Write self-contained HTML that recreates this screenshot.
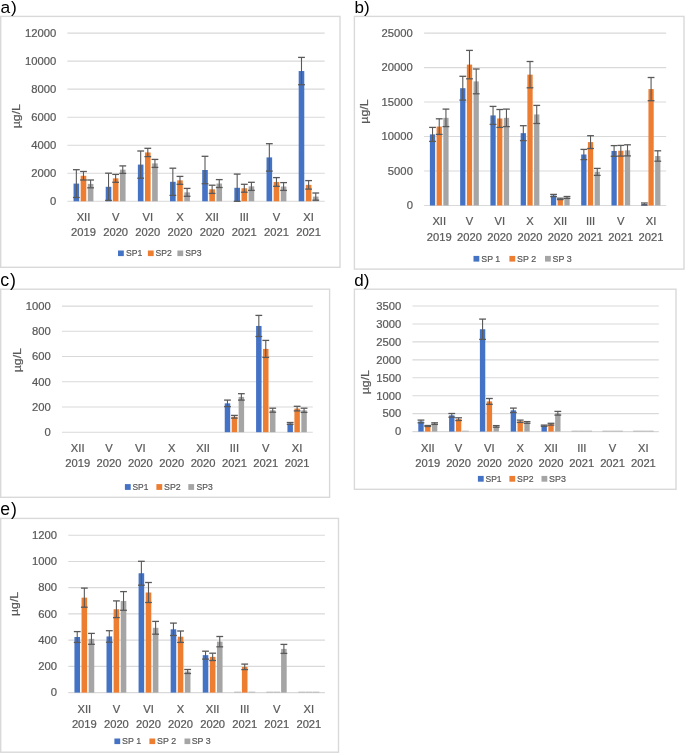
<!DOCTYPE html>
<html><head><meta charset="utf-8"><title>Figure</title>
<style>
html,body{margin:0;padding:0;background:#fff;}
body{width:685px;height:753px;overflow:hidden;}
svg{display:block;font-family:"Liberation Sans",sans-serif;will-change:transform;}
text.g{stroke:#595959;stroke-width:0.22px;}
</style></head>
<body>
<svg width="685" height="753" viewBox="0 0 685 753">
<rect x="0" y="0" width="685" height="753" fill="#fff"/>
<rect x="0.7" y="16.4" width="339.3" height="250.9" fill="none" stroke="#D9D9D9" stroke-width="1.4"/>
<text x="0.4" y="12.7" font-size="17.4" fill="#000">a<tspan dx="1">)</tspan></text>
<line x1="67.4" y1="201.3" x2="324.7" y2="201.3" stroke="#D9D9D9" stroke-width="1.1"/>
<text class="g" x="56.2" y="205.1" font-size="11.25" fill="#595959" text-anchor="end">0</text>
<line x1="67.4" y1="173.27" x2="324.7" y2="173.27" stroke="#D9D9D9" stroke-width="1.1"/>
<text class="g" x="56.2" y="177.07" font-size="11.25" fill="#595959" text-anchor="end">2000</text>
<line x1="67.4" y1="145.23" x2="324.7" y2="145.23" stroke="#D9D9D9" stroke-width="1.1"/>
<text class="g" x="56.2" y="149.03" font-size="11.25" fill="#595959" text-anchor="end">4000</text>
<line x1="67.4" y1="117.2" x2="324.7" y2="117.2" stroke="#D9D9D9" stroke-width="1.1"/>
<text class="g" x="56.2" y="121" font-size="11.25" fill="#595959" text-anchor="end">6000</text>
<line x1="67.4" y1="89.17" x2="324.7" y2="89.17" stroke="#D9D9D9" stroke-width="1.1"/>
<text class="g" x="56.2" y="92.97" font-size="11.25" fill="#595959" text-anchor="end">8000</text>
<line x1="67.4" y1="61.13" x2="324.7" y2="61.13" stroke="#D9D9D9" stroke-width="1.1"/>
<text class="g" x="56.2" y="64.93" font-size="11.25" fill="#595959" text-anchor="end">10000</text>
<line x1="67.4" y1="33.1" x2="324.7" y2="33.1" stroke="#D9D9D9" stroke-width="1.1"/>
<text class="g" x="56.2" y="36.9" font-size="11.25" fill="#595959" text-anchor="end">12000</text>
<text class="g" x="0" y="0" font-size="11.2" fill="#595959" text-anchor="middle" textLength="24.1" lengthAdjust="spacingAndGlyphs" transform="translate(19.8 116.2) rotate(-90)">&#181;g/L</text>
<rect x="73.55" y="183.6" width="5.61" height="17.7" fill="#4472C4"/>
<rect x="80.67" y="175.75" width="5.61" height="25.55" fill="#ED7D31"/>
<rect x="87.8" y="183.9" width="5.61" height="17.4" fill="#A5A5A5"/>
<line x1="76.35" y1="169.7" x2="76.35" y2="197.5" stroke="#595959" stroke-width="1.1"/>
<line x1="72.95" y1="169.7" x2="79.75" y2="169.7" stroke="#595959" stroke-width="1.3"/>
<line x1="72.95" y1="197.5" x2="79.75" y2="197.5" stroke="#595959" stroke-width="1.3"/>
<line x1="83.48" y1="171.5" x2="83.48" y2="180" stroke="#595959" stroke-width="1.1"/>
<line x1="80.08" y1="171.5" x2="86.88" y2="171.5" stroke="#595959" stroke-width="1.3"/>
<line x1="80.08" y1="180" x2="86.88" y2="180" stroke="#595959" stroke-width="1.3"/>
<line x1="90.61" y1="180" x2="90.61" y2="187.8" stroke="#595959" stroke-width="1.1"/>
<line x1="87.21" y1="180" x2="94.01" y2="180" stroke="#595959" stroke-width="1.3"/>
<line x1="87.21" y1="187.8" x2="94.01" y2="187.8" stroke="#595959" stroke-width="1.3"/>
<rect x="105.71" y="186.8" width="5.61" height="14.5" fill="#4472C4"/>
<rect x="112.84" y="178.35" width="5.61" height="22.95" fill="#ED7D31"/>
<rect x="119.97" y="169.65" width="5.61" height="31.65" fill="#A5A5A5"/>
<line x1="108.52" y1="173.2" x2="108.52" y2="200.4" stroke="#595959" stroke-width="1.1"/>
<line x1="105.12" y1="173.2" x2="111.92" y2="173.2" stroke="#595959" stroke-width="1.3"/>
<line x1="105.12" y1="200.4" x2="111.92" y2="200.4" stroke="#595959" stroke-width="1.3"/>
<line x1="115.64" y1="174.4" x2="115.64" y2="182.3" stroke="#595959" stroke-width="1.1"/>
<line x1="112.24" y1="174.4" x2="119.04" y2="174.4" stroke="#595959" stroke-width="1.3"/>
<line x1="112.24" y1="182.3" x2="119.04" y2="182.3" stroke="#595959" stroke-width="1.3"/>
<line x1="122.77" y1="165.9" x2="122.77" y2="173.4" stroke="#595959" stroke-width="1.1"/>
<line x1="119.37" y1="165.9" x2="126.17" y2="165.9" stroke="#595959" stroke-width="1.3"/>
<line x1="119.37" y1="173.4" x2="126.17" y2="173.4" stroke="#595959" stroke-width="1.3"/>
<rect x="137.87" y="164.6" width="5.61" height="36.7" fill="#4472C4"/>
<rect x="145" y="152.45" width="5.61" height="48.85" fill="#ED7D31"/>
<rect x="152.13" y="163.4" width="5.61" height="37.9" fill="#A5A5A5"/>
<line x1="140.68" y1="151" x2="140.68" y2="178.2" stroke="#595959" stroke-width="1.1"/>
<line x1="137.28" y1="151" x2="144.08" y2="151" stroke="#595959" stroke-width="1.3"/>
<line x1="137.28" y1="178.2" x2="144.08" y2="178.2" stroke="#595959" stroke-width="1.3"/>
<line x1="147.81" y1="148.3" x2="147.81" y2="156.6" stroke="#595959" stroke-width="1.1"/>
<line x1="144.41" y1="148.3" x2="151.21" y2="148.3" stroke="#595959" stroke-width="1.3"/>
<line x1="144.41" y1="156.6" x2="151.21" y2="156.6" stroke="#595959" stroke-width="1.3"/>
<line x1="154.93" y1="159.4" x2="154.93" y2="167.4" stroke="#595959" stroke-width="1.1"/>
<line x1="151.53" y1="159.4" x2="158.33" y2="159.4" stroke="#595959" stroke-width="1.3"/>
<line x1="151.53" y1="167.4" x2="158.33" y2="167.4" stroke="#595959" stroke-width="1.3"/>
<rect x="170.03" y="181.8" width="5.61" height="19.5" fill="#4472C4"/>
<rect x="177.16" y="180.35" width="5.61" height="20.95" fill="#ED7D31"/>
<rect x="184.29" y="192.35" width="5.61" height="8.95" fill="#A5A5A5"/>
<line x1="172.84" y1="168.2" x2="172.84" y2="195.4" stroke="#595959" stroke-width="1.1"/>
<line x1="169.44" y1="168.2" x2="176.24" y2="168.2" stroke="#595959" stroke-width="1.3"/>
<line x1="169.44" y1="195.4" x2="176.24" y2="195.4" stroke="#595959" stroke-width="1.3"/>
<line x1="179.97" y1="176.4" x2="179.97" y2="184.3" stroke="#595959" stroke-width="1.1"/>
<line x1="176.57" y1="176.4" x2="183.37" y2="176.4" stroke="#595959" stroke-width="1.3"/>
<line x1="176.57" y1="184.3" x2="183.37" y2="184.3" stroke="#595959" stroke-width="1.3"/>
<line x1="187.1" y1="188.4" x2="187.1" y2="196.3" stroke="#595959" stroke-width="1.1"/>
<line x1="183.7" y1="188.4" x2="190.5" y2="188.4" stroke="#595959" stroke-width="1.3"/>
<line x1="183.7" y1="196.3" x2="190.5" y2="196.3" stroke="#595959" stroke-width="1.3"/>
<rect x="202.2" y="170" width="5.61" height="31.3" fill="#4472C4"/>
<rect x="209.32" y="189.3" width="5.61" height="12" fill="#ED7D31"/>
<rect x="216.45" y="183.55" width="5.61" height="17.75" fill="#A5A5A5"/>
<line x1="205" y1="156.3" x2="205" y2="183.7" stroke="#595959" stroke-width="1.1"/>
<line x1="201.6" y1="156.3" x2="208.4" y2="156.3" stroke="#595959" stroke-width="1.3"/>
<line x1="201.6" y1="183.7" x2="208.4" y2="183.7" stroke="#595959" stroke-width="1.3"/>
<line x1="212.13" y1="185.2" x2="212.13" y2="193.4" stroke="#595959" stroke-width="1.1"/>
<line x1="208.73" y1="185.2" x2="215.53" y2="185.2" stroke="#595959" stroke-width="1.3"/>
<line x1="208.73" y1="193.4" x2="215.53" y2="193.4" stroke="#595959" stroke-width="1.3"/>
<line x1="219.26" y1="179.6" x2="219.26" y2="187.5" stroke="#595959" stroke-width="1.1"/>
<line x1="215.86" y1="179.6" x2="222.66" y2="179.6" stroke="#595959" stroke-width="1.3"/>
<line x1="215.86" y1="187.5" x2="222.66" y2="187.5" stroke="#595959" stroke-width="1.3"/>
<rect x="234.36" y="187.8" width="5.61" height="13.5" fill="#4472C4"/>
<rect x="241.49" y="188.25" width="5.61" height="13.05" fill="#ED7D31"/>
<rect x="248.62" y="186.35" width="5.61" height="14.95" fill="#A5A5A5"/>
<line x1="237.17" y1="174.1" x2="237.17" y2="201.3" stroke="#595959" stroke-width="1.1"/>
<line x1="233.77" y1="174.1" x2="240.57" y2="174.1" stroke="#595959" stroke-width="1.3"/>
<line x1="233.77" y1="201.3" x2="240.57" y2="201.3" stroke="#595959" stroke-width="1.3"/>
<line x1="244.29" y1="184.3" x2="244.29" y2="192.2" stroke="#595959" stroke-width="1.1"/>
<line x1="240.89" y1="184.3" x2="247.69" y2="184.3" stroke="#595959" stroke-width="1.3"/>
<line x1="240.89" y1="192.2" x2="247.69" y2="192.2" stroke="#595959" stroke-width="1.3"/>
<line x1="251.42" y1="182.3" x2="251.42" y2="190.4" stroke="#595959" stroke-width="1.1"/>
<line x1="248.02" y1="182.3" x2="254.82" y2="182.3" stroke="#595959" stroke-width="1.3"/>
<line x1="248.02" y1="190.4" x2="254.82" y2="190.4" stroke="#595959" stroke-width="1.3"/>
<rect x="266.52" y="157.4" width="5.61" height="43.9" fill="#4472C4"/>
<rect x="273.65" y="181.95" width="5.61" height="19.35" fill="#ED7D31"/>
<rect x="280.78" y="186.5" width="5.61" height="14.8" fill="#A5A5A5"/>
<line x1="269.33" y1="143.7" x2="269.33" y2="171.1" stroke="#595959" stroke-width="1.1"/>
<line x1="265.93" y1="143.7" x2="272.73" y2="143.7" stroke="#595959" stroke-width="1.3"/>
<line x1="265.93" y1="171.1" x2="272.73" y2="171.1" stroke="#595959" stroke-width="1.3"/>
<line x1="276.46" y1="177.6" x2="276.46" y2="186.3" stroke="#595959" stroke-width="1.1"/>
<line x1="273.06" y1="177.6" x2="279.86" y2="177.6" stroke="#595959" stroke-width="1.3"/>
<line x1="273.06" y1="186.3" x2="279.86" y2="186.3" stroke="#595959" stroke-width="1.3"/>
<line x1="283.58" y1="182.6" x2="283.58" y2="190.4" stroke="#595959" stroke-width="1.1"/>
<line x1="280.18" y1="182.6" x2="286.98" y2="182.6" stroke="#595959" stroke-width="1.3"/>
<line x1="280.18" y1="190.4" x2="286.98" y2="190.4" stroke="#595959" stroke-width="1.3"/>
<rect x="298.68" y="71.05" width="5.61" height="130.25" fill="#4472C4"/>
<rect x="305.81" y="184.85" width="5.61" height="16.45" fill="#ED7D31"/>
<rect x="312.94" y="196.6" width="5.61" height="4.7" fill="#A5A5A5"/>
<line x1="301.49" y1="57.4" x2="301.49" y2="84.7" stroke="#595959" stroke-width="1.1"/>
<line x1="298.09" y1="57.4" x2="304.89" y2="57.4" stroke="#595959" stroke-width="1.3"/>
<line x1="298.09" y1="84.7" x2="304.89" y2="84.7" stroke="#595959" stroke-width="1.3"/>
<line x1="308.62" y1="180.6" x2="308.62" y2="189.1" stroke="#595959" stroke-width="1.1"/>
<line x1="305.22" y1="180.6" x2="312.02" y2="180.6" stroke="#595959" stroke-width="1.3"/>
<line x1="305.22" y1="189.1" x2="312.02" y2="189.1" stroke="#595959" stroke-width="1.3"/>
<line x1="315.75" y1="193" x2="315.75" y2="200.2" stroke="#595959" stroke-width="1.1"/>
<line x1="312.35" y1="193" x2="319.15" y2="193" stroke="#595959" stroke-width="1.3"/>
<line x1="312.35" y1="200.2" x2="319.15" y2="200.2" stroke="#595959" stroke-width="1.3"/>
<text class="g" x="83.48" y="221.1" font-size="11.2" fill="#595959" text-anchor="middle">XII</text>
<text class="g" x="83.48" y="236.4" font-size="11.2" fill="#595959" text-anchor="middle">2019</text>
<text class="g" x="115.64" y="221.1" font-size="11.2" fill="#595959" text-anchor="middle">V</text>
<text class="g" x="115.64" y="236.4" font-size="11.2" fill="#595959" text-anchor="middle">2020</text>
<text class="g" x="147.81" y="221.1" font-size="11.2" fill="#595959" text-anchor="middle">VI</text>
<text class="g" x="147.81" y="236.4" font-size="11.2" fill="#595959" text-anchor="middle">2020</text>
<text class="g" x="179.97" y="221.1" font-size="11.2" fill="#595959" text-anchor="middle">X</text>
<text class="g" x="179.97" y="236.4" font-size="11.2" fill="#595959" text-anchor="middle">2020</text>
<text class="g" x="212.13" y="221.1" font-size="11.2" fill="#595959" text-anchor="middle">XII</text>
<text class="g" x="212.13" y="236.4" font-size="11.2" fill="#595959" text-anchor="middle">2020</text>
<text class="g" x="244.29" y="221.1" font-size="11.2" fill="#595959" text-anchor="middle">III</text>
<text class="g" x="244.29" y="236.4" font-size="11.2" fill="#595959" text-anchor="middle">2021</text>
<text class="g" x="276.46" y="221.1" font-size="11.2" fill="#595959" text-anchor="middle">V</text>
<text class="g" x="276.46" y="236.4" font-size="11.2" fill="#595959" text-anchor="middle">2021</text>
<text class="g" x="308.62" y="221.1" font-size="11.2" fill="#595959" text-anchor="middle">XI</text>
<text class="g" x="308.62" y="236.4" font-size="11.2" fill="#595959" text-anchor="middle">2021</text>
<rect x="118" y="250.5" width="5.8" height="5.6" fill="#4472C4"/>
<text class="g" x="125.9" y="256" font-size="9.8" fill="#595959" text-anchor="start" textLength="16.3" lengthAdjust="spacingAndGlyphs">SP1</text>
<rect x="147.9" y="250.5" width="5.8" height="5.6" fill="#ED7D31"/>
<text class="g" x="155.4" y="256" font-size="9.8" fill="#595959" text-anchor="start" textLength="16.3" lengthAdjust="spacingAndGlyphs">SP2</text>
<rect x="177.4" y="250.5" width="5.8" height="5.6" fill="#A5A5A5"/>
<text class="g" x="185.3" y="256" font-size="9.8" fill="#595959" text-anchor="start" textLength="16.3" lengthAdjust="spacingAndGlyphs">SP3</text>
<rect x="354.4" y="16.4" width="329.6" height="252.7" fill="none" stroke="#D9D9D9" stroke-width="1.4"/>
<text x="354.6" y="12.7" font-size="17" fill="#000">b<tspan dx="0">)</tspan></text>
<line x1="424.1" y1="205.5" x2="666.2" y2="205.5" stroke="#D9D9D9" stroke-width="1.1"/>
<text class="g" x="412.9" y="209.3" font-size="11.25" fill="#595959" text-anchor="end">0</text>
<line x1="424.1" y1="171.02" x2="666.2" y2="171.02" stroke="#D9D9D9" stroke-width="1.1"/>
<text class="g" x="412.9" y="174.82" font-size="11.25" fill="#595959" text-anchor="end">5000</text>
<line x1="424.1" y1="136.54" x2="666.2" y2="136.54" stroke="#D9D9D9" stroke-width="1.1"/>
<text class="g" x="412.9" y="140.34" font-size="11.25" fill="#595959" text-anchor="end">10000</text>
<line x1="424.1" y1="102.06" x2="666.2" y2="102.06" stroke="#D9D9D9" stroke-width="1.1"/>
<text class="g" x="412.9" y="105.86" font-size="11.25" fill="#595959" text-anchor="end">15000</text>
<line x1="424.1" y1="67.58" x2="666.2" y2="67.58" stroke="#D9D9D9" stroke-width="1.1"/>
<text class="g" x="412.9" y="71.38" font-size="11.25" fill="#595959" text-anchor="end">20000</text>
<line x1="424.1" y1="33.1" x2="666.2" y2="33.1" stroke="#D9D9D9" stroke-width="1.1"/>
<text class="g" x="412.9" y="36.9" font-size="11.25" fill="#595959" text-anchor="end">25000</text>
<text class="g" x="0" y="0" font-size="11.2" fill="#595959" text-anchor="middle" textLength="24.1" lengthAdjust="spacingAndGlyphs" transform="translate(368 111.6) rotate(-90)">&#181;g/L</text>
<rect x="429.88" y="134.4" width="5.28" height="71.1" fill="#4472C4"/>
<rect x="436.59" y="126.6" width="5.28" height="78.9" fill="#ED7D31"/>
<rect x="443.3" y="117.85" width="5.28" height="87.65" fill="#A5A5A5"/>
<line x1="432.52" y1="127.4" x2="432.52" y2="141.4" stroke="#595959" stroke-width="1.1"/>
<line x1="429.12" y1="127.4" x2="435.92" y2="127.4" stroke="#595959" stroke-width="1.3"/>
<line x1="429.12" y1="141.4" x2="435.92" y2="141.4" stroke="#595959" stroke-width="1.3"/>
<line x1="439.23" y1="118.8" x2="439.23" y2="134.4" stroke="#595959" stroke-width="1.1"/>
<line x1="435.83" y1="118.8" x2="442.63" y2="118.8" stroke="#595959" stroke-width="1.3"/>
<line x1="435.83" y1="134.4" x2="442.63" y2="134.4" stroke="#595959" stroke-width="1.3"/>
<line x1="445.94" y1="109.1" x2="445.94" y2="126.6" stroke="#595959" stroke-width="1.1"/>
<line x1="442.54" y1="109.1" x2="449.34" y2="109.1" stroke="#595959" stroke-width="1.3"/>
<line x1="442.54" y1="126.6" x2="449.34" y2="126.6" stroke="#595959" stroke-width="1.3"/>
<rect x="460.15" y="88.2" width="5.28" height="117.3" fill="#4472C4"/>
<rect x="466.85" y="64.6" width="5.28" height="140.9" fill="#ED7D31"/>
<rect x="473.56" y="81.4" width="5.28" height="124.1" fill="#A5A5A5"/>
<line x1="462.79" y1="76.3" x2="462.79" y2="100.1" stroke="#595959" stroke-width="1.1"/>
<line x1="459.39" y1="76.3" x2="466.19" y2="76.3" stroke="#595959" stroke-width="1.3"/>
<line x1="459.39" y1="100.1" x2="466.19" y2="100.1" stroke="#595959" stroke-width="1.3"/>
<line x1="469.49" y1="50.4" x2="469.49" y2="78.8" stroke="#595959" stroke-width="1.1"/>
<line x1="466.09" y1="50.4" x2="472.89" y2="50.4" stroke="#595959" stroke-width="1.3"/>
<line x1="466.09" y1="78.8" x2="472.89" y2="78.8" stroke="#595959" stroke-width="1.3"/>
<line x1="476.2" y1="69" x2="476.2" y2="93.8" stroke="#595959" stroke-width="1.1"/>
<line x1="472.8" y1="69" x2="479.6" y2="69" stroke="#595959" stroke-width="1.3"/>
<line x1="472.8" y1="93.8" x2="479.6" y2="93.8" stroke="#595959" stroke-width="1.3"/>
<rect x="490.41" y="115.4" width="5.28" height="90.1" fill="#4472C4"/>
<rect x="497.12" y="118.45" width="5.28" height="87.05" fill="#ED7D31"/>
<rect x="503.82" y="117.85" width="5.28" height="87.65" fill="#A5A5A5"/>
<line x1="493.05" y1="106.4" x2="493.05" y2="124.4" stroke="#595959" stroke-width="1.1"/>
<line x1="489.65" y1="106.4" x2="496.45" y2="106.4" stroke="#595959" stroke-width="1.3"/>
<line x1="489.65" y1="124.4" x2="496.45" y2="124.4" stroke="#595959" stroke-width="1.3"/>
<line x1="499.76" y1="109.5" x2="499.76" y2="127.4" stroke="#595959" stroke-width="1.1"/>
<line x1="496.36" y1="109.5" x2="503.16" y2="109.5" stroke="#595959" stroke-width="1.3"/>
<line x1="496.36" y1="127.4" x2="503.16" y2="127.4" stroke="#595959" stroke-width="1.3"/>
<line x1="506.46" y1="109.1" x2="506.46" y2="126.6" stroke="#595959" stroke-width="1.1"/>
<line x1="503.06" y1="109.1" x2="509.86" y2="109.1" stroke="#595959" stroke-width="1.3"/>
<line x1="503.06" y1="126.6" x2="509.86" y2="126.6" stroke="#595959" stroke-width="1.3"/>
<rect x="520.67" y="133.15" width="5.28" height="72.35" fill="#4472C4"/>
<rect x="527.38" y="74.65" width="5.28" height="130.85" fill="#ED7D31"/>
<rect x="534.09" y="114.45" width="5.28" height="91.05" fill="#A5A5A5"/>
<line x1="523.31" y1="125.7" x2="523.31" y2="140.6" stroke="#595959" stroke-width="1.1"/>
<line x1="519.91" y1="125.7" x2="526.71" y2="125.7" stroke="#595959" stroke-width="1.3"/>
<line x1="519.91" y1="140.6" x2="526.71" y2="140.6" stroke="#595959" stroke-width="1.3"/>
<line x1="530.02" y1="61.5" x2="530.02" y2="87.8" stroke="#595959" stroke-width="1.1"/>
<line x1="526.62" y1="61.5" x2="533.42" y2="61.5" stroke="#595959" stroke-width="1.3"/>
<line x1="526.62" y1="87.8" x2="533.42" y2="87.8" stroke="#595959" stroke-width="1.3"/>
<line x1="536.73" y1="105.4" x2="536.73" y2="123.5" stroke="#595959" stroke-width="1.1"/>
<line x1="533.33" y1="105.4" x2="540.13" y2="105.4" stroke="#595959" stroke-width="1.3"/>
<line x1="533.33" y1="123.5" x2="540.13" y2="123.5" stroke="#595959" stroke-width="1.3"/>
<rect x="550.93" y="195.5" width="5.28" height="10" fill="#4472C4"/>
<rect x="557.64" y="198.9" width="5.28" height="6.6" fill="#ED7D31"/>
<rect x="564.35" y="197.45" width="5.28" height="8.05" fill="#A5A5A5"/>
<line x1="553.57" y1="194.4" x2="553.57" y2="196.6" stroke="#595959" stroke-width="1.1"/>
<line x1="550.17" y1="194.4" x2="556.97" y2="194.4" stroke="#595959" stroke-width="1.3"/>
<line x1="550.17" y1="196.6" x2="556.97" y2="196.6" stroke="#595959" stroke-width="1.3"/>
<line x1="560.28" y1="198.2" x2="560.28" y2="199.6" stroke="#595959" stroke-width="1.1"/>
<line x1="556.88" y1="198.2" x2="563.68" y2="198.2" stroke="#595959" stroke-width="1.3"/>
<line x1="556.88" y1="199.6" x2="563.68" y2="199.6" stroke="#595959" stroke-width="1.3"/>
<line x1="566.99" y1="196.5" x2="566.99" y2="198.4" stroke="#595959" stroke-width="1.1"/>
<line x1="563.59" y1="196.5" x2="570.39" y2="196.5" stroke="#595959" stroke-width="1.3"/>
<line x1="563.59" y1="198.4" x2="570.39" y2="198.4" stroke="#595959" stroke-width="1.3"/>
<rect x="581.2" y="154.5" width="5.28" height="51" fill="#4472C4"/>
<rect x="587.9" y="142.1" width="5.28" height="63.4" fill="#ED7D31"/>
<rect x="594.61" y="171.9" width="5.28" height="33.6" fill="#A5A5A5"/>
<line x1="583.84" y1="149.4" x2="583.84" y2="159.6" stroke="#595959" stroke-width="1.1"/>
<line x1="580.44" y1="149.4" x2="587.24" y2="149.4" stroke="#595959" stroke-width="1.3"/>
<line x1="580.44" y1="159.6" x2="587.24" y2="159.6" stroke="#595959" stroke-width="1.3"/>
<line x1="590.54" y1="135.7" x2="590.54" y2="148.5" stroke="#595959" stroke-width="1.1"/>
<line x1="587.14" y1="135.7" x2="593.94" y2="135.7" stroke="#595959" stroke-width="1.3"/>
<line x1="587.14" y1="148.5" x2="593.94" y2="148.5" stroke="#595959" stroke-width="1.3"/>
<line x1="597.25" y1="168.4" x2="597.25" y2="175.4" stroke="#595959" stroke-width="1.1"/>
<line x1="593.85" y1="168.4" x2="600.65" y2="168.4" stroke="#595959" stroke-width="1.3"/>
<line x1="593.85" y1="175.4" x2="600.65" y2="175.4" stroke="#595959" stroke-width="1.3"/>
<rect x="611.46" y="150.95" width="5.28" height="54.55" fill="#4472C4"/>
<rect x="618.17" y="150.75" width="5.28" height="54.75" fill="#ED7D31"/>
<rect x="624.87" y="150.35" width="5.28" height="55.15" fill="#A5A5A5"/>
<line x1="614.1" y1="145.6" x2="614.1" y2="156.3" stroke="#595959" stroke-width="1.1"/>
<line x1="610.7" y1="145.6" x2="617.5" y2="145.6" stroke="#595959" stroke-width="1.3"/>
<line x1="610.7" y1="156.3" x2="617.5" y2="156.3" stroke="#595959" stroke-width="1.3"/>
<line x1="620.81" y1="145.4" x2="620.81" y2="156.1" stroke="#595959" stroke-width="1.1"/>
<line x1="617.41" y1="145.4" x2="624.21" y2="145.4" stroke="#595959" stroke-width="1.3"/>
<line x1="617.41" y1="156.1" x2="624.21" y2="156.1" stroke="#595959" stroke-width="1.3"/>
<line x1="627.51" y1="144.8" x2="627.51" y2="155.9" stroke="#595959" stroke-width="1.1"/>
<line x1="624.11" y1="144.8" x2="630.91" y2="144.8" stroke="#595959" stroke-width="1.3"/>
<line x1="624.11" y1="155.9" x2="630.91" y2="155.9" stroke="#595959" stroke-width="1.3"/>
<rect x="641.72" y="204" width="5.28" height="1.5" fill="#4472C4"/>
<rect x="648.43" y="89.1" width="5.28" height="116.4" fill="#ED7D31"/>
<rect x="655.14" y="156" width="5.28" height="49.5" fill="#A5A5A5"/>
<line x1="644.36" y1="203" x2="644.36" y2="205" stroke="#595959" stroke-width="1.1"/>
<line x1="640.96" y1="203" x2="647.76" y2="203" stroke="#595959" stroke-width="1.3"/>
<line x1="640.96" y1="205" x2="647.76" y2="205" stroke="#595959" stroke-width="1.3"/>
<line x1="651.07" y1="77.5" x2="651.07" y2="100.7" stroke="#595959" stroke-width="1.1"/>
<line x1="647.67" y1="77.5" x2="654.47" y2="77.5" stroke="#595959" stroke-width="1.3"/>
<line x1="647.67" y1="100.7" x2="654.47" y2="100.7" stroke="#595959" stroke-width="1.3"/>
<line x1="657.78" y1="150.8" x2="657.78" y2="161.2" stroke="#595959" stroke-width="1.1"/>
<line x1="654.38" y1="150.8" x2="661.18" y2="150.8" stroke="#595959" stroke-width="1.3"/>
<line x1="654.38" y1="161.2" x2="661.18" y2="161.2" stroke="#595959" stroke-width="1.3"/>
<text class="g" x="439.23" y="225.3" font-size="11.2" fill="#595959" text-anchor="middle">XII</text>
<text class="g" x="439.23" y="240.6" font-size="11.2" fill="#595959" text-anchor="middle">2019</text>
<text class="g" x="469.49" y="225.3" font-size="11.2" fill="#595959" text-anchor="middle">V</text>
<text class="g" x="469.49" y="240.6" font-size="11.2" fill="#595959" text-anchor="middle">2020</text>
<text class="g" x="499.76" y="225.3" font-size="11.2" fill="#595959" text-anchor="middle">VI</text>
<text class="g" x="499.76" y="240.6" font-size="11.2" fill="#595959" text-anchor="middle">2020</text>
<text class="g" x="530.02" y="225.3" font-size="11.2" fill="#595959" text-anchor="middle">X</text>
<text class="g" x="530.02" y="240.6" font-size="11.2" fill="#595959" text-anchor="middle">2020</text>
<text class="g" x="560.28" y="225.3" font-size="11.2" fill="#595959" text-anchor="middle">XII</text>
<text class="g" x="560.28" y="240.6" font-size="11.2" fill="#595959" text-anchor="middle">2020</text>
<text class="g" x="590.54" y="225.3" font-size="11.2" fill="#595959" text-anchor="middle">III</text>
<text class="g" x="590.54" y="240.6" font-size="11.2" fill="#595959" text-anchor="middle">2021</text>
<text class="g" x="620.81" y="225.3" font-size="11.2" fill="#595959" text-anchor="middle">V</text>
<text class="g" x="620.81" y="240.6" font-size="11.2" fill="#595959" text-anchor="middle">2021</text>
<text class="g" x="651.07" y="225.3" font-size="11.2" fill="#595959" text-anchor="middle">XI</text>
<text class="g" x="651.07" y="240.6" font-size="11.2" fill="#595959" text-anchor="middle">2021</text>
<rect x="473.5" y="255.9" width="5.8" height="5.7" fill="#4472C4"/>
<text class="g" x="481.3" y="261.5" font-size="9.8" fill="#595959" text-anchor="start" textLength="18.9" lengthAdjust="spacingAndGlyphs">SP 1</text>
<rect x="509.4" y="255.9" width="5.8" height="5.7" fill="#ED7D31"/>
<text class="g" x="517.1" y="261.5" font-size="9.8" fill="#595959" text-anchor="start" textLength="19" lengthAdjust="spacingAndGlyphs">SP 2</text>
<rect x="545" y="255.9" width="5.8" height="5.7" fill="#A5A5A5"/>
<text class="g" x="552.6" y="261.5" font-size="9.8" fill="#595959" text-anchor="start" textLength="19.1" lengthAdjust="spacingAndGlyphs">SP 3</text>
<rect x="0.7" y="289.2" width="328.9" height="208.1" fill="none" stroke="#D9D9D9" stroke-width="1.4"/>
<text x="0.2" y="285.6" font-size="17.8" fill="#000">c<tspan dx="0.8">)</tspan></text>
<line x1="62" y1="432.2" x2="312.8" y2="432.2" stroke="#D9D9D9" stroke-width="1.1"/>
<text class="g" x="50.8" y="436" font-size="11.25" fill="#595959" text-anchor="end">0</text>
<line x1="62" y1="406.98" x2="312.8" y2="406.98" stroke="#D9D9D9" stroke-width="1.1"/>
<text class="g" x="50.8" y="410.78" font-size="11.25" fill="#595959" text-anchor="end">200</text>
<line x1="62" y1="381.76" x2="312.8" y2="381.76" stroke="#D9D9D9" stroke-width="1.1"/>
<text class="g" x="50.8" y="385.56" font-size="11.25" fill="#595959" text-anchor="end">400</text>
<line x1="62" y1="356.54" x2="312.8" y2="356.54" stroke="#D9D9D9" stroke-width="1.1"/>
<text class="g" x="50.8" y="360.34" font-size="11.25" fill="#595959" text-anchor="end">600</text>
<line x1="62" y1="331.32" x2="312.8" y2="331.32" stroke="#D9D9D9" stroke-width="1.1"/>
<text class="g" x="50.8" y="335.12" font-size="11.25" fill="#595959" text-anchor="end">800</text>
<line x1="62" y1="306.1" x2="312.8" y2="306.1" stroke="#D9D9D9" stroke-width="1.1"/>
<text class="g" x="50.8" y="309.9" font-size="11.25" fill="#595959" text-anchor="end">1000</text>
<text class="g" x="0" y="0" font-size="11.2" fill="#595959" text-anchor="middle" textLength="24.1" lengthAdjust="spacingAndGlyphs" transform="translate(20.6 360.2) rotate(-90)">&#181;g/L</text>
<rect x="224.74" y="403.35" width="5.47" height="28.85" fill="#4472C4"/>
<rect x="231.69" y="416.75" width="5.47" height="15.45" fill="#ED7D31"/>
<rect x="238.64" y="396.9" width="5.47" height="35.3" fill="#A5A5A5"/>
<line x1="227.48" y1="400.1" x2="227.48" y2="406.6" stroke="#595959" stroke-width="1.1"/>
<line x1="224.08" y1="400.1" x2="230.88" y2="400.1" stroke="#595959" stroke-width="1.3"/>
<line x1="224.08" y1="406.6" x2="230.88" y2="406.6" stroke="#595959" stroke-width="1.3"/>
<line x1="234.43" y1="415.4" x2="234.43" y2="418.1" stroke="#595959" stroke-width="1.1"/>
<line x1="231.03" y1="415.4" x2="237.83" y2="415.4" stroke="#595959" stroke-width="1.3"/>
<line x1="231.03" y1="418.1" x2="237.83" y2="418.1" stroke="#595959" stroke-width="1.3"/>
<line x1="241.37" y1="393.7" x2="241.37" y2="400.1" stroke="#595959" stroke-width="1.1"/>
<line x1="237.97" y1="393.7" x2="244.77" y2="393.7" stroke="#595959" stroke-width="1.3"/>
<line x1="237.97" y1="400.1" x2="244.77" y2="400.1" stroke="#595959" stroke-width="1.3"/>
<rect x="256.09" y="325.95" width="5.47" height="106.25" fill="#4472C4"/>
<rect x="263.04" y="348.9" width="5.47" height="83.3" fill="#ED7D31"/>
<rect x="269.99" y="410.2" width="5.47" height="22" fill="#A5A5A5"/>
<line x1="258.83" y1="315.4" x2="258.83" y2="336.5" stroke="#595959" stroke-width="1.1"/>
<line x1="255.43" y1="315.4" x2="262.23" y2="315.4" stroke="#595959" stroke-width="1.3"/>
<line x1="255.43" y1="336.5" x2="262.23" y2="336.5" stroke="#595959" stroke-width="1.3"/>
<line x1="265.77" y1="340.4" x2="265.77" y2="357.4" stroke="#595959" stroke-width="1.1"/>
<line x1="262.38" y1="340.4" x2="269.17" y2="340.4" stroke="#595959" stroke-width="1.3"/>
<line x1="262.38" y1="357.4" x2="269.17" y2="357.4" stroke="#595959" stroke-width="1.3"/>
<line x1="272.72" y1="408.2" x2="272.72" y2="412.2" stroke="#595959" stroke-width="1.1"/>
<line x1="269.32" y1="408.2" x2="276.12" y2="408.2" stroke="#595959" stroke-width="1.3"/>
<line x1="269.32" y1="412.2" x2="276.12" y2="412.2" stroke="#595959" stroke-width="1.3"/>
<rect x="287.44" y="423.45" width="5.47" height="8.75" fill="#4472C4"/>
<rect x="294.39" y="408.6" width="5.47" height="23.6" fill="#ED7D31"/>
<rect x="301.34" y="410.3" width="5.47" height="21.9" fill="#A5A5A5"/>
<line x1="290.18" y1="422.5" x2="290.18" y2="424.4" stroke="#595959" stroke-width="1.1"/>
<line x1="286.78" y1="422.5" x2="293.58" y2="422.5" stroke="#595959" stroke-width="1.3"/>
<line x1="286.78" y1="424.4" x2="293.58" y2="424.4" stroke="#595959" stroke-width="1.3"/>
<line x1="297.12" y1="406.3" x2="297.12" y2="410.9" stroke="#595959" stroke-width="1.1"/>
<line x1="293.73" y1="406.3" x2="300.52" y2="406.3" stroke="#595959" stroke-width="1.3"/>
<line x1="293.73" y1="410.9" x2="300.52" y2="410.9" stroke="#595959" stroke-width="1.3"/>
<line x1="304.07" y1="408.2" x2="304.07" y2="412.4" stroke="#595959" stroke-width="1.1"/>
<line x1="300.67" y1="408.2" x2="307.47" y2="408.2" stroke="#595959" stroke-width="1.3"/>
<line x1="300.67" y1="412.4" x2="307.47" y2="412.4" stroke="#595959" stroke-width="1.3"/>
<text class="g" x="77.67" y="452" font-size="11.2" fill="#595959" text-anchor="middle">XII</text>
<text class="g" x="77.67" y="467.3" font-size="11.2" fill="#595959" text-anchor="middle">2019</text>
<text class="g" x="109.03" y="452" font-size="11.2" fill="#595959" text-anchor="middle">V</text>
<text class="g" x="109.03" y="467.3" font-size="11.2" fill="#595959" text-anchor="middle">2020</text>
<text class="g" x="140.38" y="452" font-size="11.2" fill="#595959" text-anchor="middle">VI</text>
<text class="g" x="140.38" y="467.3" font-size="11.2" fill="#595959" text-anchor="middle">2020</text>
<text class="g" x="171.73" y="452" font-size="11.2" fill="#595959" text-anchor="middle">X</text>
<text class="g" x="171.73" y="467.3" font-size="11.2" fill="#595959" text-anchor="middle">2020</text>
<text class="g" x="203.08" y="452" font-size="11.2" fill="#595959" text-anchor="middle">XII</text>
<text class="g" x="203.08" y="467.3" font-size="11.2" fill="#595959" text-anchor="middle">2020</text>
<text class="g" x="234.43" y="452" font-size="11.2" fill="#595959" text-anchor="middle">III</text>
<text class="g" x="234.43" y="467.3" font-size="11.2" fill="#595959" text-anchor="middle">2021</text>
<text class="g" x="265.77" y="452" font-size="11.2" fill="#595959" text-anchor="middle">V</text>
<text class="g" x="265.77" y="467.3" font-size="11.2" fill="#595959" text-anchor="middle">2021</text>
<text class="g" x="297.12" y="452" font-size="11.2" fill="#595959" text-anchor="middle">XI</text>
<text class="g" x="297.12" y="467.3" font-size="11.2" fill="#595959" text-anchor="middle">2021</text>
<rect x="124.9" y="484.1" width="5.8" height="5.8" fill="#4472C4"/>
<text class="g" x="132.5" y="489.9" font-size="9.8" fill="#595959" text-anchor="start" textLength="15.9" lengthAdjust="spacingAndGlyphs">SP1</text>
<rect x="156.4" y="484.1" width="5.8" height="5.8" fill="#ED7D31"/>
<text class="g" x="164.1" y="489.9" font-size="9.8" fill="#595959" text-anchor="start" textLength="16.7" lengthAdjust="spacingAndGlyphs">SP2</text>
<rect x="188.3" y="484.1" width="5.8" height="5.8" fill="#A5A5A5"/>
<text class="g" x="196.5" y="489.9" font-size="9.8" fill="#595959" text-anchor="start" textLength="16.2" lengthAdjust="spacingAndGlyphs">SP3</text>
<rect x="354.4" y="289.2" width="321.6" height="200.1" fill="none" stroke="#D9D9D9" stroke-width="1.4"/>
<text x="354.2" y="285.6" font-size="17" fill="#000">d<tspan dx="0">)</tspan></text>
<line x1="412.4" y1="431.6" x2="658.8" y2="431.6" stroke="#D9D9D9" stroke-width="1.1"/>
<text class="g" x="401.2" y="435.4" font-size="11.25" fill="#595959" text-anchor="end">0</text>
<line x1="412.4" y1="413.66" x2="658.8" y2="413.66" stroke="#D9D9D9" stroke-width="1.1"/>
<text class="g" x="401.2" y="417.46" font-size="11.25" fill="#595959" text-anchor="end">500</text>
<line x1="412.4" y1="395.71" x2="658.8" y2="395.71" stroke="#D9D9D9" stroke-width="1.1"/>
<text class="g" x="401.2" y="399.51" font-size="11.25" fill="#595959" text-anchor="end">1000</text>
<line x1="412.4" y1="377.77" x2="658.8" y2="377.77" stroke="#D9D9D9" stroke-width="1.1"/>
<text class="g" x="401.2" y="381.57" font-size="11.25" fill="#595959" text-anchor="end">1500</text>
<line x1="412.4" y1="359.83" x2="658.8" y2="359.83" stroke="#D9D9D9" stroke-width="1.1"/>
<text class="g" x="401.2" y="363.63" font-size="11.25" fill="#595959" text-anchor="end">2000</text>
<line x1="412.4" y1="341.89" x2="658.8" y2="341.89" stroke="#D9D9D9" stroke-width="1.1"/>
<text class="g" x="401.2" y="345.69" font-size="11.25" fill="#595959" text-anchor="end">2500</text>
<line x1="412.4" y1="323.94" x2="658.8" y2="323.94" stroke="#D9D9D9" stroke-width="1.1"/>
<text class="g" x="401.2" y="327.74" font-size="11.25" fill="#595959" text-anchor="end">3000</text>
<line x1="412.4" y1="306" x2="658.8" y2="306" stroke="#D9D9D9" stroke-width="1.1"/>
<text class="g" x="401.2" y="309.8" font-size="11.25" fill="#595959" text-anchor="end">3500</text>
<text class="g" x="0" y="0" font-size="11.2" fill="#595959" text-anchor="middle" textLength="24.1" lengthAdjust="spacingAndGlyphs" transform="translate(369.2 382.2) rotate(-90)">&#181;g/L</text>
<rect x="418.29" y="421.45" width="5.38" height="10.15" fill="#4472C4"/>
<rect x="425.11" y="426" width="5.38" height="5.6" fill="#ED7D31"/>
<rect x="431.94" y="423.6" width="5.38" height="8" fill="#A5A5A5"/>
<line x1="420.97" y1="420.1" x2="420.97" y2="422.8" stroke="#595959" stroke-width="1.1"/>
<line x1="417.57" y1="420.1" x2="424.37" y2="420.1" stroke="#595959" stroke-width="1.3"/>
<line x1="417.57" y1="422.8" x2="424.37" y2="422.8" stroke="#595959" stroke-width="1.3"/>
<line x1="427.8" y1="425.5" x2="427.8" y2="426.5" stroke="#595959" stroke-width="1.1"/>
<line x1="424.4" y1="425.5" x2="431.2" y2="425.5" stroke="#595959" stroke-width="1.3"/>
<line x1="424.4" y1="426.5" x2="431.2" y2="426.5" stroke="#595959" stroke-width="1.3"/>
<line x1="434.63" y1="422.8" x2="434.63" y2="424.4" stroke="#595959" stroke-width="1.1"/>
<line x1="431.23" y1="422.8" x2="438.03" y2="422.8" stroke="#595959" stroke-width="1.3"/>
<line x1="431.23" y1="424.4" x2="438.03" y2="424.4" stroke="#595959" stroke-width="1.3"/>
<rect x="449.09" y="415.35" width="5.38" height="16.25" fill="#4472C4"/>
<rect x="455.91" y="419.15" width="5.38" height="12.45" fill="#ED7D31"/>
<line x1="451.77" y1="413.5" x2="451.77" y2="417.2" stroke="#595959" stroke-width="1.1"/>
<line x1="448.37" y1="413.5" x2="455.17" y2="413.5" stroke="#595959" stroke-width="1.3"/>
<line x1="448.37" y1="417.2" x2="455.17" y2="417.2" stroke="#595959" stroke-width="1.3"/>
<line x1="458.6" y1="417.8" x2="458.6" y2="420.5" stroke="#595959" stroke-width="1.1"/>
<line x1="455.2" y1="417.8" x2="462" y2="417.8" stroke="#595959" stroke-width="1.3"/>
<line x1="455.2" y1="420.5" x2="462" y2="420.5" stroke="#595959" stroke-width="1.3"/>
<line x1="462.03" y1="431.2" x2="468.83" y2="431.2" stroke="#BFBFBF" stroke-width="1.2"/>
<rect x="479.89" y="329.25" width="5.38" height="102.35" fill="#4472C4"/>
<rect x="486.71" y="401.4" width="5.38" height="30.2" fill="#ED7D31"/>
<rect x="493.54" y="426.4" width="5.38" height="5.2" fill="#A5A5A5"/>
<line x1="482.57" y1="319.1" x2="482.57" y2="339.4" stroke="#595959" stroke-width="1.1"/>
<line x1="479.17" y1="319.1" x2="485.97" y2="319.1" stroke="#595959" stroke-width="1.3"/>
<line x1="479.17" y1="339.4" x2="485.97" y2="339.4" stroke="#595959" stroke-width="1.3"/>
<line x1="489.4" y1="398.5" x2="489.4" y2="404.3" stroke="#595959" stroke-width="1.1"/>
<line x1="486" y1="398.5" x2="492.8" y2="398.5" stroke="#595959" stroke-width="1.3"/>
<line x1="486" y1="404.3" x2="492.8" y2="404.3" stroke="#595959" stroke-width="1.3"/>
<line x1="496.23" y1="425.6" x2="496.23" y2="427.2" stroke="#595959" stroke-width="1.1"/>
<line x1="492.83" y1="425.6" x2="499.63" y2="425.6" stroke="#595959" stroke-width="1.3"/>
<line x1="492.83" y1="427.2" x2="499.63" y2="427.2" stroke="#595959" stroke-width="1.3"/>
<rect x="510.69" y="410.3" width="5.38" height="21.3" fill="#4472C4"/>
<rect x="517.51" y="421.25" width="5.38" height="10.35" fill="#ED7D31"/>
<rect x="524.34" y="422.45" width="5.38" height="9.15" fill="#A5A5A5"/>
<line x1="513.37" y1="408.1" x2="513.37" y2="412.5" stroke="#595959" stroke-width="1.1"/>
<line x1="509.97" y1="408.1" x2="516.77" y2="408.1" stroke="#595959" stroke-width="1.3"/>
<line x1="509.97" y1="412.5" x2="516.77" y2="412.5" stroke="#595959" stroke-width="1.3"/>
<line x1="520.2" y1="420.1" x2="520.2" y2="422.4" stroke="#595959" stroke-width="1.1"/>
<line x1="516.8" y1="420.1" x2="523.6" y2="420.1" stroke="#595959" stroke-width="1.3"/>
<line x1="516.8" y1="422.4" x2="523.6" y2="422.4" stroke="#595959" stroke-width="1.3"/>
<line x1="527.03" y1="421.6" x2="527.03" y2="423.3" stroke="#595959" stroke-width="1.1"/>
<line x1="523.63" y1="421.6" x2="530.43" y2="421.6" stroke="#595959" stroke-width="1.3"/>
<line x1="523.63" y1="423.3" x2="530.43" y2="423.3" stroke="#595959" stroke-width="1.3"/>
<rect x="541.49" y="425.7" width="5.38" height="5.9" fill="#4472C4"/>
<rect x="548.31" y="424.2" width="5.38" height="7.4" fill="#ED7D31"/>
<rect x="555.14" y="413.25" width="5.38" height="18.35" fill="#A5A5A5"/>
<line x1="544.17" y1="425.1" x2="544.17" y2="426.3" stroke="#595959" stroke-width="1.1"/>
<line x1="540.77" y1="425.1" x2="547.57" y2="425.1" stroke="#595959" stroke-width="1.3"/>
<line x1="540.77" y1="426.3" x2="547.57" y2="426.3" stroke="#595959" stroke-width="1.3"/>
<line x1="551" y1="423.3" x2="551" y2="425.1" stroke="#595959" stroke-width="1.1"/>
<line x1="547.6" y1="423.3" x2="554.4" y2="423.3" stroke="#595959" stroke-width="1.3"/>
<line x1="547.6" y1="425.1" x2="554.4" y2="425.1" stroke="#595959" stroke-width="1.3"/>
<line x1="557.83" y1="411.4" x2="557.83" y2="415.1" stroke="#595959" stroke-width="1.1"/>
<line x1="554.43" y1="411.4" x2="561.23" y2="411.4" stroke="#595959" stroke-width="1.3"/>
<line x1="554.43" y1="415.1" x2="561.23" y2="415.1" stroke="#595959" stroke-width="1.3"/>
<line x1="571.57" y1="431.2" x2="578.37" y2="431.2" stroke="#BFBFBF" stroke-width="1.2"/>
<line x1="578.4" y1="431.2" x2="585.2" y2="431.2" stroke="#BFBFBF" stroke-width="1.2"/>
<line x1="585.23" y1="431.2" x2="592.03" y2="431.2" stroke="#BFBFBF" stroke-width="1.2"/>
<line x1="602.37" y1="431.2" x2="609.17" y2="431.2" stroke="#BFBFBF" stroke-width="1.2"/>
<line x1="609.2" y1="431.2" x2="616" y2="431.2" stroke="#BFBFBF" stroke-width="1.2"/>
<line x1="616.03" y1="431.2" x2="622.83" y2="431.2" stroke="#BFBFBF" stroke-width="1.2"/>
<line x1="633.17" y1="431.2" x2="639.97" y2="431.2" stroke="#BFBFBF" stroke-width="1.2"/>
<line x1="640" y1="431.2" x2="646.8" y2="431.2" stroke="#BFBFBF" stroke-width="1.2"/>
<line x1="646.83" y1="431.2" x2="653.63" y2="431.2" stroke="#BFBFBF" stroke-width="1.2"/>
<text class="g" x="427.8" y="452" font-size="11.2" fill="#595959" text-anchor="middle">XII</text>
<text class="g" x="427.8" y="466.7" font-size="11.2" fill="#595959" text-anchor="middle">2019</text>
<text class="g" x="458.6" y="452" font-size="11.2" fill="#595959" text-anchor="middle">V</text>
<text class="g" x="458.6" y="466.7" font-size="11.2" fill="#595959" text-anchor="middle">2020</text>
<text class="g" x="489.4" y="452" font-size="11.2" fill="#595959" text-anchor="middle">VI</text>
<text class="g" x="489.4" y="466.7" font-size="11.2" fill="#595959" text-anchor="middle">2020</text>
<text class="g" x="520.2" y="452" font-size="11.2" fill="#595959" text-anchor="middle">X</text>
<text class="g" x="520.2" y="466.7" font-size="11.2" fill="#595959" text-anchor="middle">2020</text>
<text class="g" x="551" y="452" font-size="11.2" fill="#595959" text-anchor="middle">XII</text>
<text class="g" x="551" y="466.7" font-size="11.2" fill="#595959" text-anchor="middle">2020</text>
<text class="g" x="581.8" y="452" font-size="11.2" fill="#595959" text-anchor="middle">III</text>
<text class="g" x="581.8" y="466.7" font-size="11.2" fill="#595959" text-anchor="middle">2021</text>
<text class="g" x="612.6" y="452" font-size="11.2" fill="#595959" text-anchor="middle">V</text>
<text class="g" x="612.6" y="466.7" font-size="11.2" fill="#595959" text-anchor="middle">2021</text>
<text class="g" x="643.4" y="452" font-size="11.2" fill="#595959" text-anchor="middle">XI</text>
<text class="g" x="643.4" y="466.7" font-size="11.2" fill="#595959" text-anchor="middle">2021</text>
<rect x="477.9" y="475.9" width="5.8" height="5.8" fill="#4472C4"/>
<text class="g" x="485.5" y="481.9" font-size="9.8" fill="#595959" text-anchor="start" textLength="16.1" lengthAdjust="spacingAndGlyphs">SP1</text>
<rect x="509.4" y="475.9" width="5.8" height="5.8" fill="#ED7D31"/>
<text class="g" x="517.1" y="481.9" font-size="9.8" fill="#595959" text-anchor="start" textLength="16.4" lengthAdjust="spacingAndGlyphs">SP2</text>
<rect x="541.5" y="475.9" width="5.8" height="5.8" fill="#A5A5A5"/>
<text class="g" x="549.1" y="481.9" font-size="9.8" fill="#595959" text-anchor="start" textLength="16.8" lengthAdjust="spacingAndGlyphs">SP3</text>
<rect x="0.7" y="518.4" width="337.8" height="233.8" fill="none" stroke="#D9D9D9" stroke-width="1.4"/>
<text x="0.3" y="514.6" font-size="17.6" fill="#000">e<tspan dx="0.9">)</tspan></text>
<line x1="68.3" y1="692.6" x2="324.9" y2="692.6" stroke="#D9D9D9" stroke-width="1.1"/>
<text class="g" x="57.1" y="696.4" font-size="11.25" fill="#595959" text-anchor="end">0</text>
<line x1="68.3" y1="666.37" x2="324.9" y2="666.37" stroke="#D9D9D9" stroke-width="1.1"/>
<text class="g" x="57.1" y="670.17" font-size="11.25" fill="#595959" text-anchor="end">200</text>
<line x1="68.3" y1="640.13" x2="324.9" y2="640.13" stroke="#D9D9D9" stroke-width="1.1"/>
<text class="g" x="57.1" y="643.93" font-size="11.25" fill="#595959" text-anchor="end">400</text>
<line x1="68.3" y1="613.9" x2="324.9" y2="613.9" stroke="#D9D9D9" stroke-width="1.1"/>
<text class="g" x="57.1" y="617.7" font-size="11.25" fill="#595959" text-anchor="end">600</text>
<line x1="68.3" y1="587.67" x2="324.9" y2="587.67" stroke="#D9D9D9" stroke-width="1.1"/>
<text class="g" x="57.1" y="591.47" font-size="11.25" fill="#595959" text-anchor="end">800</text>
<line x1="68.3" y1="561.43" x2="324.9" y2="561.43" stroke="#D9D9D9" stroke-width="1.1"/>
<text class="g" x="57.1" y="565.23" font-size="11.25" fill="#595959" text-anchor="end">1000</text>
<line x1="68.3" y1="535.2" x2="324.9" y2="535.2" stroke="#D9D9D9" stroke-width="1.1"/>
<text class="g" x="57.1" y="539" font-size="11.25" fill="#595959" text-anchor="end">1200</text>
<text class="g" x="0" y="0" font-size="11.2" fill="#595959" text-anchor="middle" textLength="24.1" lengthAdjust="spacingAndGlyphs" transform="translate(18.3 603.9) rotate(-90)">&#181;g/L</text>
<rect x="74.43" y="637" width="5.6" height="55.6" fill="#4472C4"/>
<rect x="81.54" y="597.65" width="5.6" height="94.95" fill="#ED7D31"/>
<rect x="88.65" y="638.85" width="5.6" height="53.75" fill="#A5A5A5"/>
<line x1="77.23" y1="631.6" x2="77.23" y2="642.4" stroke="#595959" stroke-width="1.1"/>
<line x1="73.83" y1="631.6" x2="80.63" y2="631.6" stroke="#595959" stroke-width="1.3"/>
<line x1="73.83" y1="642.4" x2="80.63" y2="642.4" stroke="#595959" stroke-width="1.3"/>
<line x1="84.34" y1="588.1" x2="84.34" y2="607.2" stroke="#595959" stroke-width="1.1"/>
<line x1="80.94" y1="588.1" x2="87.74" y2="588.1" stroke="#595959" stroke-width="1.3"/>
<line x1="80.94" y1="607.2" x2="87.74" y2="607.2" stroke="#595959" stroke-width="1.3"/>
<line x1="91.45" y1="633.4" x2="91.45" y2="644.3" stroke="#595959" stroke-width="1.1"/>
<line x1="88.05" y1="633.4" x2="94.85" y2="633.4" stroke="#595959" stroke-width="1.3"/>
<line x1="88.05" y1="644.3" x2="94.85" y2="644.3" stroke="#595959" stroke-width="1.3"/>
<rect x="106.5" y="636.45" width="5.6" height="56.15" fill="#4472C4"/>
<rect x="113.61" y="609.25" width="5.6" height="83.35" fill="#ED7D31"/>
<rect x="120.72" y="600.95" width="5.6" height="91.65" fill="#A5A5A5"/>
<line x1="109.3" y1="630.7" x2="109.3" y2="642.2" stroke="#595959" stroke-width="1.1"/>
<line x1="105.9" y1="630.7" x2="112.7" y2="630.7" stroke="#595959" stroke-width="1.3"/>
<line x1="105.9" y1="642.2" x2="112.7" y2="642.2" stroke="#595959" stroke-width="1.3"/>
<line x1="116.41" y1="600.9" x2="116.41" y2="617.6" stroke="#595959" stroke-width="1.1"/>
<line x1="113.01" y1="600.9" x2="119.81" y2="600.9" stroke="#595959" stroke-width="1.3"/>
<line x1="113.01" y1="617.6" x2="119.81" y2="617.6" stroke="#595959" stroke-width="1.3"/>
<line x1="123.52" y1="591.6" x2="123.52" y2="610.3" stroke="#595959" stroke-width="1.1"/>
<line x1="120.12" y1="591.6" x2="126.92" y2="591.6" stroke="#595959" stroke-width="1.3"/>
<line x1="120.12" y1="610.3" x2="126.92" y2="610.3" stroke="#595959" stroke-width="1.3"/>
<rect x="138.58" y="573.25" width="5.6" height="119.35" fill="#4472C4"/>
<rect x="145.69" y="592.5" width="5.6" height="100.1" fill="#ED7D31"/>
<rect x="152.8" y="627.8" width="5.6" height="64.8" fill="#A5A5A5"/>
<line x1="141.38" y1="561.3" x2="141.38" y2="585.2" stroke="#595959" stroke-width="1.1"/>
<line x1="137.98" y1="561.3" x2="144.78" y2="561.3" stroke="#595959" stroke-width="1.3"/>
<line x1="137.98" y1="585.2" x2="144.78" y2="585.2" stroke="#595959" stroke-width="1.3"/>
<line x1="148.49" y1="582.5" x2="148.49" y2="602.5" stroke="#595959" stroke-width="1.1"/>
<line x1="145.09" y1="582.5" x2="151.89" y2="582.5" stroke="#595959" stroke-width="1.3"/>
<line x1="145.09" y1="602.5" x2="151.89" y2="602.5" stroke="#595959" stroke-width="1.3"/>
<line x1="155.6" y1="621.4" x2="155.6" y2="634.2" stroke="#595959" stroke-width="1.1"/>
<line x1="152.2" y1="621.4" x2="159" y2="621.4" stroke="#595959" stroke-width="1.3"/>
<line x1="152.2" y1="634.2" x2="159" y2="634.2" stroke="#595959" stroke-width="1.3"/>
<rect x="170.65" y="629.3" width="5.6" height="63.3" fill="#4472C4"/>
<rect x="177.76" y="636.7" width="5.6" height="55.9" fill="#ED7D31"/>
<rect x="184.87" y="671.5" width="5.6" height="21.1" fill="#A5A5A5"/>
<line x1="173.45" y1="623.1" x2="173.45" y2="635.5" stroke="#595959" stroke-width="1.1"/>
<line x1="170.05" y1="623.1" x2="176.85" y2="623.1" stroke="#595959" stroke-width="1.3"/>
<line x1="170.05" y1="635.5" x2="176.85" y2="635.5" stroke="#595959" stroke-width="1.3"/>
<line x1="180.56" y1="631" x2="180.56" y2="642.4" stroke="#595959" stroke-width="1.1"/>
<line x1="177.16" y1="631" x2="183.96" y2="631" stroke="#595959" stroke-width="1.3"/>
<line x1="177.16" y1="642.4" x2="183.96" y2="642.4" stroke="#595959" stroke-width="1.3"/>
<line x1="187.67" y1="669.5" x2="187.67" y2="673.5" stroke="#595959" stroke-width="1.1"/>
<line x1="184.27" y1="669.5" x2="191.07" y2="669.5" stroke="#595959" stroke-width="1.3"/>
<line x1="184.27" y1="673.5" x2="191.07" y2="673.5" stroke="#595959" stroke-width="1.3"/>
<rect x="202.73" y="655.15" width="5.6" height="37.45" fill="#4472C4"/>
<rect x="209.84" y="656.85" width="5.6" height="35.75" fill="#ED7D31"/>
<rect x="216.95" y="641.65" width="5.6" height="50.95" fill="#A5A5A5"/>
<line x1="205.53" y1="651.2" x2="205.53" y2="659.1" stroke="#595959" stroke-width="1.1"/>
<line x1="202.13" y1="651.2" x2="208.93" y2="651.2" stroke="#595959" stroke-width="1.3"/>
<line x1="202.13" y1="659.1" x2="208.93" y2="659.1" stroke="#595959" stroke-width="1.3"/>
<line x1="212.64" y1="653.2" x2="212.64" y2="660.5" stroke="#595959" stroke-width="1.1"/>
<line x1="209.24" y1="653.2" x2="216.04" y2="653.2" stroke="#595959" stroke-width="1.3"/>
<line x1="209.24" y1="660.5" x2="216.04" y2="660.5" stroke="#595959" stroke-width="1.3"/>
<line x1="219.75" y1="636.5" x2="219.75" y2="646.8" stroke="#595959" stroke-width="1.1"/>
<line x1="216.35" y1="636.5" x2="223.15" y2="636.5" stroke="#595959" stroke-width="1.3"/>
<line x1="216.35" y1="646.8" x2="223.15" y2="646.8" stroke="#595959" stroke-width="1.3"/>
<rect x="241.91" y="666.85" width="5.6" height="25.75" fill="#ED7D31"/>
<line x1="234.2" y1="692.2" x2="241" y2="692.2" stroke="#BFBFBF" stroke-width="1.2"/>
<line x1="244.71" y1="664.1" x2="244.71" y2="669.6" stroke="#595959" stroke-width="1.1"/>
<line x1="241.31" y1="664.1" x2="248.11" y2="664.1" stroke="#595959" stroke-width="1.3"/>
<line x1="241.31" y1="669.6" x2="248.11" y2="669.6" stroke="#595959" stroke-width="1.3"/>
<line x1="248.42" y1="692.2" x2="255.22" y2="692.2" stroke="#BFBFBF" stroke-width="1.2"/>
<rect x="281.1" y="648.9" width="5.6" height="43.7" fill="#A5A5A5"/>
<line x1="266.28" y1="692.2" x2="273.08" y2="692.2" stroke="#BFBFBF" stroke-width="1.2"/>
<line x1="273.39" y1="692.2" x2="280.19" y2="692.2" stroke="#BFBFBF" stroke-width="1.2"/>
<line x1="283.9" y1="644.4" x2="283.9" y2="653.4" stroke="#595959" stroke-width="1.1"/>
<line x1="280.5" y1="644.4" x2="287.3" y2="644.4" stroke="#595959" stroke-width="1.3"/>
<line x1="280.5" y1="653.4" x2="287.3" y2="653.4" stroke="#595959" stroke-width="1.3"/>
<line x1="298.35" y1="692.2" x2="305.15" y2="692.2" stroke="#BFBFBF" stroke-width="1.2"/>
<line x1="305.46" y1="692.2" x2="312.26" y2="692.2" stroke="#BFBFBF" stroke-width="1.2"/>
<line x1="312.57" y1="692.2" x2="319.37" y2="692.2" stroke="#BFBFBF" stroke-width="1.2"/>
<text class="g" x="84.34" y="713" font-size="11.2" fill="#595959" text-anchor="middle">XII</text>
<text class="g" x="84.34" y="727.7" font-size="11.2" fill="#595959" text-anchor="middle">2019</text>
<text class="g" x="116.41" y="713" font-size="11.2" fill="#595959" text-anchor="middle">V</text>
<text class="g" x="116.41" y="727.7" font-size="11.2" fill="#595959" text-anchor="middle">2020</text>
<text class="g" x="148.49" y="713" font-size="11.2" fill="#595959" text-anchor="middle">VI</text>
<text class="g" x="148.49" y="727.7" font-size="11.2" fill="#595959" text-anchor="middle">2020</text>
<text class="g" x="180.56" y="713" font-size="11.2" fill="#595959" text-anchor="middle">X</text>
<text class="g" x="180.56" y="727.7" font-size="11.2" fill="#595959" text-anchor="middle">2020</text>
<text class="g" x="212.64" y="713" font-size="11.2" fill="#595959" text-anchor="middle">XII</text>
<text class="g" x="212.64" y="727.7" font-size="11.2" fill="#595959" text-anchor="middle">2020</text>
<text class="g" x="244.71" y="713" font-size="11.2" fill="#595959" text-anchor="middle">III</text>
<text class="g" x="244.71" y="727.7" font-size="11.2" fill="#595959" text-anchor="middle">2021</text>
<text class="g" x="276.79" y="713" font-size="11.2" fill="#595959" text-anchor="middle">V</text>
<text class="g" x="276.79" y="727.7" font-size="11.2" fill="#595959" text-anchor="middle">2021</text>
<text class="g" x="308.86" y="713" font-size="11.2" fill="#595959" text-anchor="middle">XI</text>
<text class="g" x="308.86" y="727.7" font-size="11.2" fill="#595959" text-anchor="middle">2021</text>
<rect x="114.4" y="738.5" width="5.8" height="5.6" fill="#4472C4"/>
<text class="g" x="122" y="744.1" font-size="9.8" fill="#595959" text-anchor="start" textLength="19.1" lengthAdjust="spacingAndGlyphs">SP 1</text>
<rect x="149.4" y="738.5" width="5.8" height="5.6" fill="#ED7D31"/>
<text class="g" x="157.1" y="744.1" font-size="9.8" fill="#595959" text-anchor="start" textLength="19" lengthAdjust="spacingAndGlyphs">SP 2</text>
<rect x="184.5" y="738.5" width="5.8" height="5.6" fill="#A5A5A5"/>
<text class="g" x="191.7" y="744.1" font-size="9.8" fill="#595959" text-anchor="start" textLength="18.9" lengthAdjust="spacingAndGlyphs">SP 3</text>
</svg>
</body></html>
